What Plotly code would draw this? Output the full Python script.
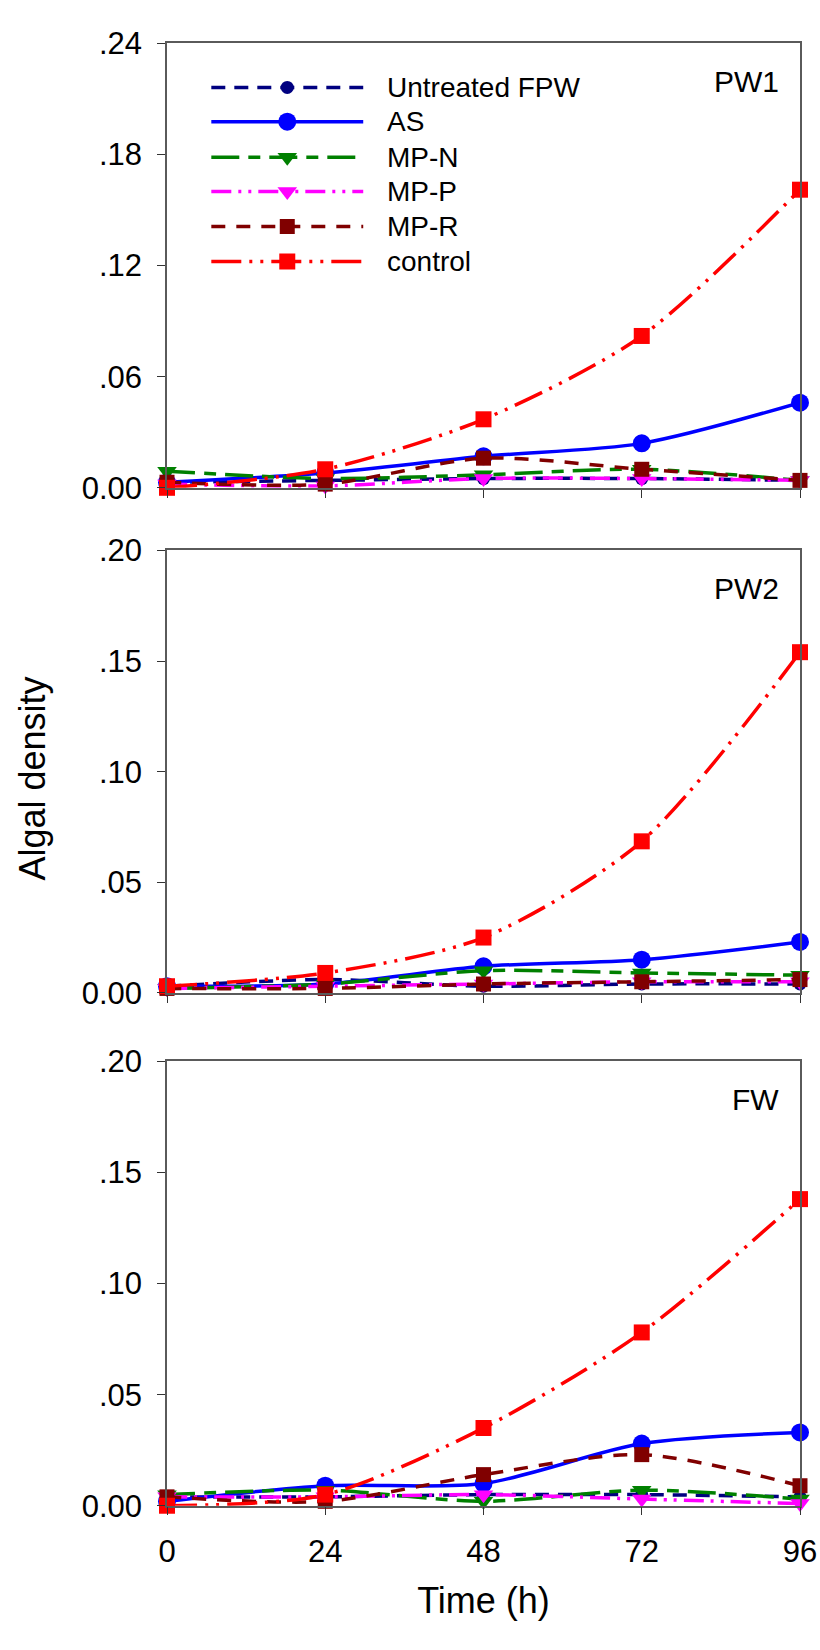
import plotly.graph_objects as go

time_h = [0, 24, 48, 72, 96]
series_names = ["Untreated FPW", "AS", "MP-N", "MP-P", "MP-R", "control"]

# PW1
pw1_untreated = [0.003, 0.004, 0.005, 0.005, 0.004]
pw1_as = [0.003, 0.008, 0.017, 0.024, 0.046]
pw1_mpn = [0.009, 0.005, 0.007, 0.010, 0.004]
pw1_mpp = [0.002, 0.001, 0.005, 0.005, 0.004]
pw1_mpr = [0.003, 0.002, 0.016, 0.010, 0.004]
pw1_control = [0.000, 0.010, 0.037, 0.082, 0.161]

# PW2
pw2_untreated = [0.003, 0.006, 0.003, 0.004, 0.004]
pw2_as = [0.003, 0.004, 0.012, 0.015, 0.023]
pw2_mpn = [0.002, 0.004, 0.010, 0.009, 0.008]
pw2_mpp = [0.002, 0.003, 0.004, 0.005, 0.005]
pw2_mpr = [0.002, 0.002, 0.004, 0.005, 0.006]
pw2_control = [0.003, 0.009, 0.025, 0.0685, 0.154]

# FW
fw_untreated = [0.004, 0.004, 0.005, 0.005, 0.004]
fw_as = [0.002, 0.009, 0.010, 0.028, 0.033]
fw_mpn = [0.005, 0.007, 0.002, 0.007, 0.003]
fw_mpp = [0.004, 0.004, 0.005, 0.003, 0.001]
fw_mpr = [0.004, 0.002, 0.014, 0.023, 0.009]
fw_control = [0.000, 0.005, 0.035, 0.078, 0.138]

panel_labels = ["PW1", "PW2", "FW"]
panel_data = [
    [pw1_untreated, pw1_as, pw1_mpn, pw1_mpp, pw1_mpr, pw1_control],
    [pw2_untreated, pw2_as, pw2_mpn, pw2_mpp, pw2_mpr, pw2_control],
    [fw_untreated, fw_as, fw_mpn, fw_mpp, fw_mpr, fw_control],
]
y_ticks_pw1 = [0, 0.06, 0.12, 0.18, 0.24]
y_ticktext_pw1 = ["0.00", ".06", ".12", ".18", ".24"]
y_ticks_other = [0, 0.05, 0.10, 0.15, 0.20]
y_ticktext_other = ["0.00", ".05", ".10", ".15", ".20"]
x_ticktext = ["0", "24", "48", "72", "96"]

styles = [
    dict(color="#000080", dash="14px,9px", symbol="circle", size=13),
    dict(color="#0000FF", dash="solid", symbol="circle", size=18),
    dict(color="#008000", dash="28px,9px,12px,9px", symbol="triangle-down", size=17),
    dict(color="#FF00FF", dash="20px,7px,3px,7px,3px,7px", symbol="triangle-down", size=17),
    dict(color="#800000", dash="14px,11px", symbol="square", size=15),
    dict(color="#FF0000", dash="30px,8px,3px,8px,3px,8px", symbol="square", size=16),
]

W, H = 820, 1650
L, R = 167, 800
panels_px = [(27, 481), (545, 997), (1067, 1521)]
FONT = "Liberation Sans, Arial, sans-serif"

fig = go.Figure()
for p, data in enumerate(panel_data):
    xa = "x" if p == 0 else f"x{p+1}"
    ya = "y" if p == 0 else f"y{p+1}"
    for name, vals, st in zip(series_names, data, styles):
        fig.add_trace(go.Scatter(
            x=time_h, y=vals, mode="lines+markers", name=name,
            line=dict(color=st["color"], dash=st["dash"], width=3.5, shape="spline", smoothing=0.8),
            marker=dict(symbol=st["symbol"], size=st["size"], color=st["color"]),
            xaxis=xa, yaxis=ya, showlegend=False, cliponaxis=False,
        ))

# custom legend in panel 1 (own unit axis overlaying panel 1)
leg_rows = [0.901, 0.824, 0.744, 0.667, 0.588, 0.509]
for name, st, yr in zip(series_names, styles, leg_rows):
    fig.add_trace(go.Scatter(
        x=[0.07, 0.31], y=[yr, yr], mode="lines",
        line=dict(color=st["color"], dash=st["dash"], width=3.5),
        xaxis="x4", yaxis="y4", showlegend=False, hoverinfo="skip",
    ))
    fig.add_trace(go.Scatter(
        x=[0.19], y=[yr], mode="markers",
        marker=dict(symbol=st["symbol"], size=st["size"], color=st["color"]),
        xaxis="x4", yaxis="y4", showlegend=False, hoverinfo="skip",
    ))
    fig.add_annotation(x=0.345, y=yr, xref="x4", yref="y4", text=name, showarrow=False,
                       xanchor="left", yanchor="middle", font=dict(size=28, family=FONT, color="black"))

layout = dict(
    width=W, height=H, paper_bgcolor="white", plot_bgcolor="white",
    margin=dict(l=L, r=W - R, t=0, b=0, pad=0), showlegend=False,
    font=dict(family=FONT, color="black"),
)
axis_common = dict(showgrid=False, zeroline=False, showline=True, linecolor="#5a5a5a", linewidth=1.5,
                   mirror=True, ticks="outside", ticklen=8, tickcolor="#333", tickwidth=1,
                   ticklabelstandoff=9,
                   tickfont=dict(size=31, family=FONT, color="black"))
for p, (top, bot) in enumerate(panels_px):
    dom = [1 - bot / H, 1 - top / H]
    suffix = "" if p == 0 else str(p + 1)
    xkey = "xaxis" + suffix
    ykey = "yaxis" + suffix
    layout[xkey] = dict(axis_common, range=[0, 96], tickvals=time_h, ticktext=x_ticktext,
                        showticklabels=(p == 2), anchor="y" + suffix, domain=[0, 1])
    tv = y_ticks_pw1 if p == 0 else y_ticks_other
    tt = y_ticktext_pw1 if p == 0 else y_ticktext_other
    layout[ykey] = dict(axis_common, range=[0, tv[-1]], tickvals=tv, ticktext=tt,
                        anchor="x" + suffix, domain=dom)
layout["xaxis3"]["title"] = dict(text="Time (h)", font=dict(size=36, family=FONT), standoff=20)
layout["xaxis4"] = dict(overlaying="x", range=[0, 1], visible=False, anchor="y4")
layout["yaxis4"] = dict(overlaying="y", range=[0, 1], visible=False, anchor="x4")
fig.update_layout(**layout)

# panel labels
for p, lab in enumerate(panel_labels):
    suffix = "" if p == 0 else str(p + 1)
    fig.add_annotation(x=0.97, y=0.915, xref=f"x{suffix} domain", yref=f"y{suffix} domain",
                       text=lab, showarrow=False, xanchor="right", yanchor="middle",
                       font=dict(size=30, family=FONT, color="black"))

fig.add_annotation(x=(32 - L) / (R - L), y=1 - 778 / H, xref="paper", yref="paper", text="Algal density",
                   textangle=-90, showarrow=False, xanchor="center", yanchor="middle",
                   font=dict(size=36, family=FONT, color="black"))

fig.write_html("out.html", config={"displayModeBar": False},
               post_script="document.body.style.margin='0';")
